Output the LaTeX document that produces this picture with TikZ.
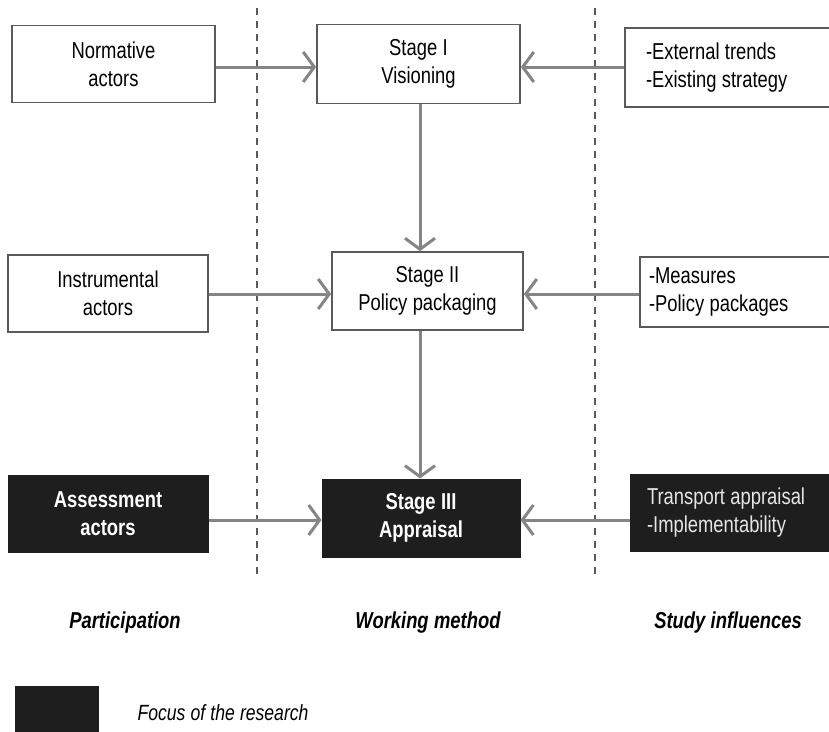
\documentclass[tikz,border=0pt]{standalone}
\usepackage{fontspec}
\setmainfont{Liberation Sans}[FakeStretch=0.8,WordSpace={1.05,0,0}]
\usetikzlibrary{arrows.meta}
\definecolor{arrowgray}{HTML}{858585}
\definecolor{boxborder}{HTML}{5A5A5A}
\definecolor{darkfill}{HTML}{1E1E1E}
\definecolor{softwhite}{HTML}{E6E6E6}
\newcommand{\nsp}{\spaceskip=0pt\xspaceskip=0pt\relax}
\begin{document}
\begin{tikzpicture}[x=1pt,y=-1pt,
  every node/.style={font=\fontsize{23}{28}\selectfont},
  wbox/.style={draw=boxborder,line width=1.8pt,fill=white,align=center,inner sep=0pt},
  dbox/.style={draw=darkfill,line width=1pt,fill=darkfill,text=white,align=center,inner sep=0pt,font=\fontsize{23}{28}\selectfont\bfseries},
  rbox/.style={wbox,align=left},
  conn/.style={draw=arrowgray,line width=3pt,-{Straight Barb[length=11pt,width=30pt,line width=3pt]}},
  divider/.style={draw=boxborder,line width=1.2pt,dash pattern=on 7pt off 6pt},
  colhead/.style={font=\fontsize{23}{28}\selectfont\bfseries\itshape}
]
\useasboundingbox (0,0) rectangle (829,731);
\fill[white] (0,0) rectangle (829,731);
% dividers
\coordinate (d1t) at (257,8);
\coordinate (d1b) at (257,580);
\coordinate (d2t) at (595,8);
\coordinate (d2b) at (595,580);
\draw[divider] (d1t) -- (d1b);
\draw[divider] (d2t) -- (d2b);
% row 1
\node[wbox,minimum width=203pt,minimum height=77pt] (norm) at (113.5,64) {Normative\\actors};
\node[wbox,minimum width=203pt,minimum height=79pt] (s1) at (418.5,64) {Stage I\\Visioning};
\node[rbox,minimum width=208pt,minimum height=79pt,text width=166pt] (ext) at (729,67.5) {\nsp -External trends\\-Existing strategy};
% row 2
\node[wbox,minimum width=200pt,minimum height=77pt] (inst) at (108,293.5) {Instrumental\\actors};
\node[wbox,minimum width=191pt,minimum height=78pt] (s2) at (427.5,291) {Stage II\\Policy packaging};
\node[rbox,minimum width=194pt,minimum height=70pt,text width=176pt] (meas) at (737,292) {\nsp -Measures\\-Policy packages};
% row 3
\node[dbox,minimum width=200pt,minimum height=77pt] (ass) at (108,513.5) {Assessment\\actors};
\node[dbox,minimum width=198pt,minimum height=78pt] (s3) at (421,518) {Stage III\\Appraisal};
\node[dbox,font=\fontsize{23}{28}\selectfont,text=softwhite,align=left,minimum width=204pt,minimum height=77pt,text width=170pt] (trans) at (732,512.5) {\nsp Transport appraisal\\-Implementability};
% connectors
\draw[conn] (norm.east |- 0,67) -- (s1.west |- 0,67);
\draw[conn] (ext.west |- 0,67) -- (s1.east |- 0,67);
\draw[conn] (s1.south -| 420,0) -- (s2.north -| 420,0);
\draw[conn] (inst.east |- 0,294) -- (s2.west |- 0,294);
\draw[conn] (meas.west |- 0,294) -- (s2.east |- 0,294);
\draw[conn] (s2.south -| 420,0) -- (s3.north -| 420,0);
\draw[conn] (ass.east |- 0,520) -- (s3.west |- 0,520);
\draw[conn] (trans.west |- 0,520) -- (s3.east |- 0,520);
% column headings
\node[colhead] (h1) at (125,623) {Participation};
\node[colhead] (h2) at (428,623) {Working method};
\node[colhead] (h3) at (728,623) {Study influences};
% legend
\node[fill=darkfill,minimum width=84pt,minimum height=50pt,inner sep=0pt] (leg) at (57,711) {};
\node[anchor=west,font=\fontsize{22}{26}\selectfont\itshape] (legtext) at (134,713) {Focus of the research};
\end{tikzpicture}
\end{document}
